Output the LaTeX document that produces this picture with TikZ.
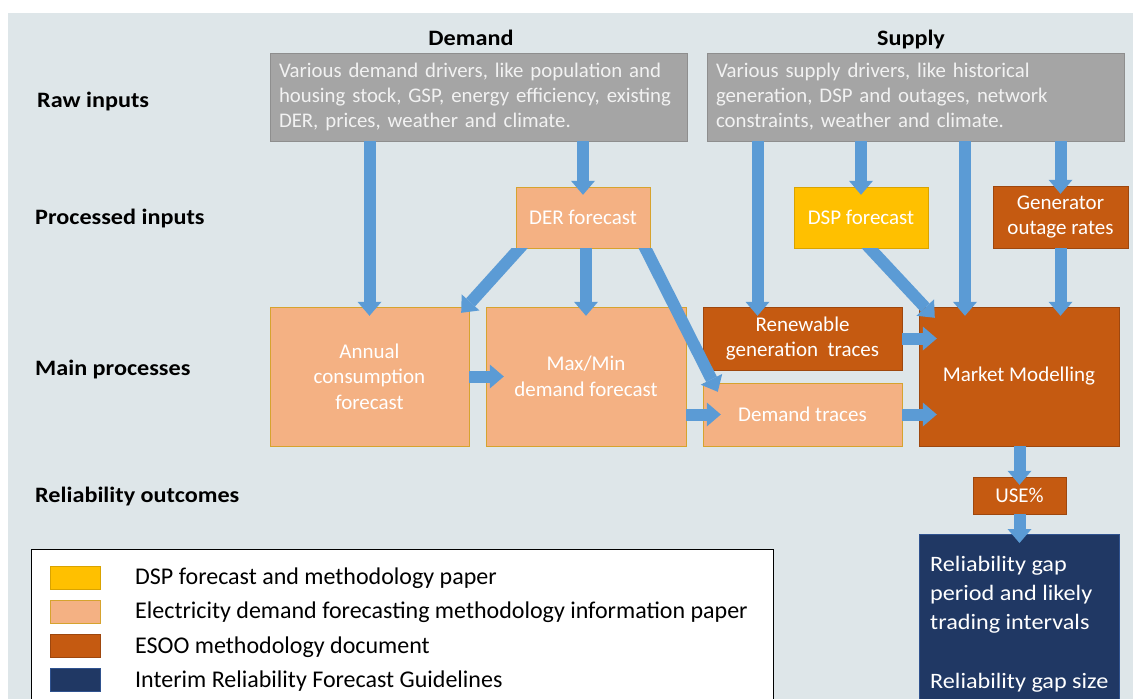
\documentclass[tikz,border=0pt]{standalone}
\usepackage{fontspec}
\setmainfont{Carlito}
\newfontfamily\widefont{Carlito}[FakeStretch=1.1]
\usetikzlibrary{arrows.meta}
\usetikzlibrary{calc}

\definecolor{bgblue}{HTML}{DEE6E9}
\definecolor{rawgrey}{HTML}{A5A5A5}
\definecolor{rawedge}{HTML}{8E8E8E}
\definecolor{peach}{HTML}{F4B183}
\definecolor{peachedge}{HTML}{D6A32E}
\definecolor{dspyellow}{HTML}{FFC000}
\definecolor{dspedge}{HTML}{D9A300}
\definecolor{esoo}{HTML}{C55A11}
\definecolor{esooedge}{HTML}{9E470E}
\definecolor{irfg}{HTML}{203864}
\definecolor{irfgedge}{HTML}{2F528F}
\definecolor{flowblue}{HTML}{5B9BD5}

\begin{document}
\begin{tikzpicture}[x=1pt,y=-1pt,
  procbox/.style={inner sep=0pt, text=white, align=center,
    font=\fontsize{21}{25.5}\selectfont},
  rawbox/.style={procbox, fill=rawgrey, draw=rawedge, text=white!95!black,
    minimum width=417, minimum height=88, text width=399, align=left,
    font=\fontsize{20.8}{25}\selectfont},
  dembox/.style={procbox, fill=peach, draw=peachedge},
  dspbox/.style={procbox, fill=dspyellow, draw=dspedge},
  esoobox/.style={procbox, fill=esoo, draw=esooedge},
  rowlabel/.style={anchor=west, inner sep=0pt, font=\widefont\fontsize{22}{26}\selectfont\bfseries},
  flow/.style={draw=flowblue, line width=12pt,
    -{Triangle[length=14pt,width=24pt,line width=0pt]}}]
\useasboundingbox (0,0) rectangle (1133,699);
\fill[bgblue] (8,13) rectangle (1133,699);

% headings and rows
\node[rowlabel, anchor=base] (hdem) at (471,45) {Demand};
\node[rowlabel, anchor=base] (hsup) at (911,45) {Supply};
\node[rowlabel] (lraw) at (37,102) {Raw inputs};
\node[rowlabel] (lproc) at (35,219) {Processed inputs};
\node[rowlabel] (lmain) at (35,370) {Main processes};
\node[rowlabel] (lrel) at (35,497) {Reliability outcomes};

% raw inputs
\node[rawbox] (rawD) at (478.5,97) {Various demand drivers, like population and\\
  housing stock, GSP, energy efficiency, existing\\DER, prices, weather and climate.};
\node[rawbox] (rawS) at (915.5,97) {Various supply drivers, like historical\\
  generation, DSP and outages, network\\constraints, weather and climate.};

% processed inputs
\node[dembox, minimum width=134, minimum height=61] (der) at (583,217.5) {DER forecast};
\node[dspbox, minimum width=134, minimum height=61] (dsp) at (861,217.5) {DSP forecast};
\node[esoobox, minimum width=135, minimum height=62] (gen) at (1060.5,217) {Generator\\outage rates};

% main processes
\node[dembox, minimum width=199, minimum height=139] (annual) at (369.5,376.5) {Annual\\consumption\\forecast};
\node[dembox, minimum width=200, minimum height=139] (maxmin) at (586,376.5) {Max/Min\\demand forecast};
\node[esoobox, minimum width=199, minimum height=63] (renew) at (802.5,338.5) {Renewable\\generation\ \ traces};
\node[dembox, minimum width=199, minimum height=63] (dtrace) at (802.5,414.5) {Demand traces};
\node[esoobox, minimum width=200, minimum height=139] (mm) at (1019,376.5) {Market Modelling};

% outcomes
\node[esoobox, minimum width=93, minimum height=37] (usepct) at (1019.5,495.5) {USE\%};
\node[procbox, fill=irfg, draw=irfgedge, minimum width=200, minimum height=180,
  anchor=north] (rel) at (1019,534) {};
\node[anchor=north west, inner sep=0pt, text=white, align=left,
  font=\widefont\fontsize{22}{29.2}\selectfont] (reltext) at (930,556)
  {Reliability gap\\period and likely\\trading intervals\\[29.2pt]Reliability gap size};

% arrows
\draw[flow] (rawD.south -| annual) -- ($(annual.north)+(0,9)$);
\draw[flow] (rawD.south -| der) -- ($(der.north)+(0,8)$);
\draw[flow] (der.south -| maxmin) -- ($(maxmin.north)+(0,9)$);
\begin{scope}
  \clip (0,248) rectangle (1133,699);
  \draw[flow] ($(der.south west)+(20,-18)$) -- ($(annual.north east)+(-8,6)$);
  \draw[flow] ($(der.south east)+(-14,-18)$) -- ($(dtrace.north west)+(15,9)$);
  \draw[flow] ($(dsp.south)+(-8,-18)$) -- ($(mm.north west)+(16,11)$);
\end{scope}
\draw[flow] (annual.east) -- ($(maxmin.west)+(18,0)$);
\draw[flow] (maxmin.east |- dtrace) -- ($(dtrace.west)+(18,0)$);

\draw[flow] ($(rawS.south)+(-158,0)$) -- ($(renew.north)+(-45,9)$);
\draw[flow] (rawS.south -| dsp) -- ($(dsp.north)+(0,8)$);
\draw[flow] ($(rawS.south)+(49.5,0)$) -- ($(mm.north)+(-54,9)$);
\draw[flow] (rawS.south -| gen) -- ($(gen.north)+(0,8)$);
\draw[flow] (gen.south) -- ($(gen.south |- mm.north)+(0,9)$);
\draw[flow] (renew.east) -- ($(renew.east -| mm.west)+(18,0)$);
\draw[flow] (dtrace.east) -- ($(dtrace.east -| mm.west)+(18,0)$);
\draw[flow] (mm.south -| usepct) -- ($(usepct.north)+(0,8)$);
\draw[flow] (usepct.south) -- ($(usepct.south |- rel.north)+(0,9)$);

% legend
\draw[fill=white, line width=0.8pt] (31,549) rectangle (773,710);
\foreach \col/\edge/\txt [count=\i] in {dspyellow/dspedge/DSP forecast and methodology paper,
    peach/peachedge/Electricity demand forecasting methodology information paper,
    esoo/esooedge/ESOO methodology document,
    irfg/irfgedge/Interim Reliability Forecast Guidelines} {
  \node[fill=\col, draw=\edge, minimum width=50, minimum height=23, inner sep=0pt]
    (key\i) at (75.5,544+34*\i) {};
  \node[anchor=west, inner sep=0pt, font=\fontsize{24}{26}\selectfont] (keytxt\i)
    at (135,543.5+34.5*\i) {\txt};
}
\end{tikzpicture}
\end{document}
